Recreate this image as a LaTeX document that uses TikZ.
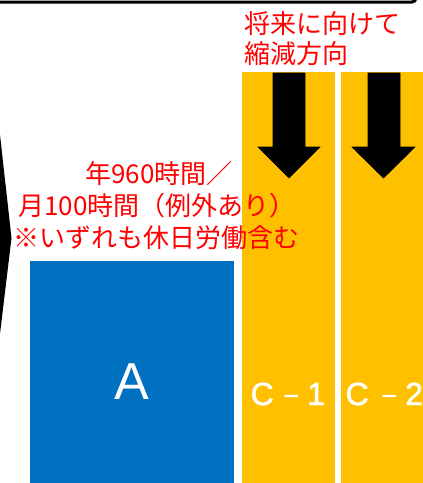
\documentclass[tikz,border=0pt]{standalone}
\usepackage{fontspec}
\newfontfamily\cjk{Noto Sans CJK JP}
\newfontfamily\lat{Liberation Sans}
\newfontfamily\latb[FakeBold=1.5]{Liberation Sans}
\definecolor{ayellow}{HTML}{FFC000}
\definecolor{ablue}{HTML}{0070C0}
\newcommand{\mdash}{{\fontsize{27}{30}\selectfont −}}
\begin{document}
\begin{tikzpicture}[x=1pt,y=-1pt,
  redtxt/.style={text=red,font=\cjk\fontsize{26}{32}\selectfont,inner sep=0pt,anchor=base west},
  collabel/.style={text=white,font=\latb\fontsize{32}{40}\selectfont,inner sep=0pt,anchor=base west},
  downarrow/.style={fill=black,draw=black,line width=0.6pt,line join=miter}]
\useasboundingbox (0,0) rectangle (423,483);
\clip (0,0) rectangle (423,483);
% top frame (only its bottom edge visible)
\draw[line width=3pt,rounded corners=4pt] (-20,-60) rectangle (416,2);
% left wedge
\fill[black] (-1,126) -- (11.5,238) -- (-1,342) -- cycle;
% columns
\fill[ayellow] (242,72) rectangle (335,490);
\fill[ayellow] (341,72) rectangle (440,490);
\fill[ablue] (30,261) rectangle (234,490);
% arrows
\filldraw[downarrow] (273,73) -- (305,73) -- (305,147) -- (320,147) -- (289,178) -- (258,147) -- (273,147) -- cycle;
\filldraw[downarrow] (368,73) -- (400,73) -- (400,147) -- (415,147) -- (383.5,178) -- (352,147) -- (368,147) -- cycle;
% labels
\node[text=white,font=\lat\fontsize{52}{60}\selectfont,inner sep=0pt,anchor=base] (la) at (132,399) {A};
\node[collabel] (lc1) at (250.4,405) {C\hspace{9.7pt}\mdash\hspace{8pt}1};
\node[collabel] (lc2) at (345.4,405) {C\hspace{12.7pt}\mdash\hspace{8pt}2};
% red texts
\node[redtxt] (t1) at (244,33) {将来に向けて};
\node[redtxt] (t2) at (244,63) {縮減方向};
\node[redtxt] (t3) at (85,183) {年960時間／};
\node[redtxt] (t4) at (18,215) {月100時間（例外あり）};
\node[redtxt] (t5) at (13,247) {※いずれも休日労働含む};
\end{tikzpicture}
\end{document}
